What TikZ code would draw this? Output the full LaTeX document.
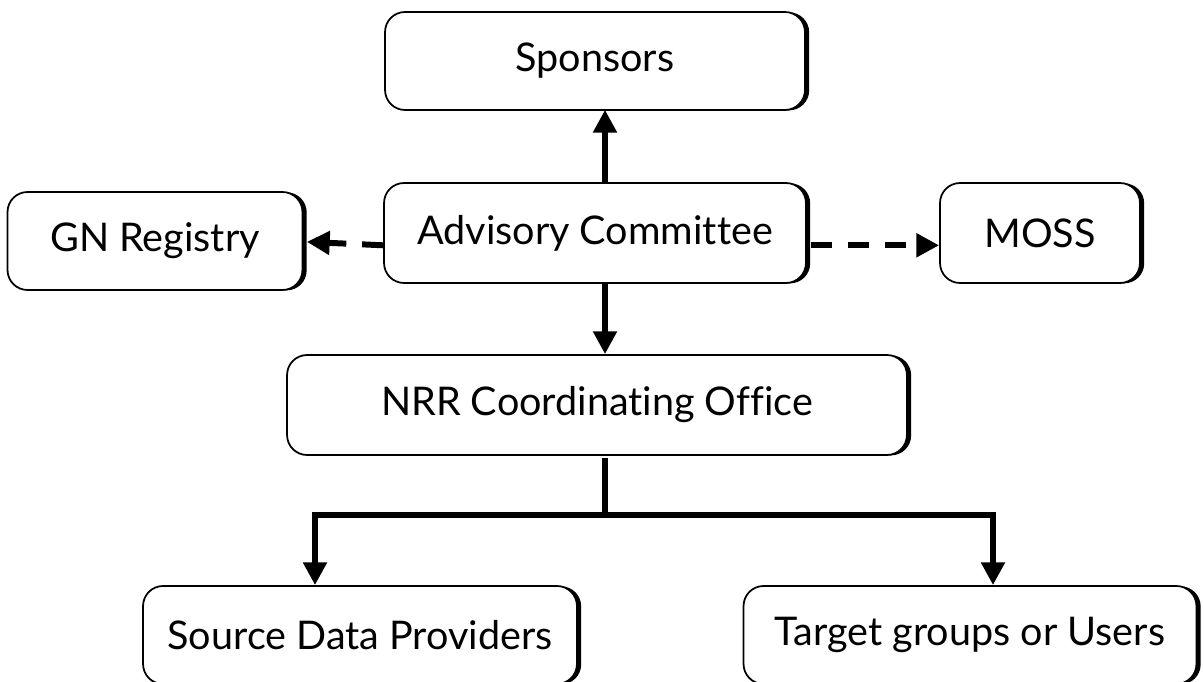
\documentclass[tikz,border=0pt]{standalone}
\usepackage{fontspec}
\setmainfont{Lato}[Ligatures={NoCommon}]
\usepackage{tikz}
\usetikzlibrary{arrows.meta}
\usetikzlibrary{shadows}

\begin{document}
\begin{tikzpicture}[x=0.02cm, y=-0.02cm,
    unit/.style={draw, line width=1pt, rounded corners=0.4cm, fill=white,
      font=\fontsize{22.5}{26}\selectfont,
      drop shadow={shadow xshift=2.4pt, shadow yshift=-0.2pt, fill=black, opacity=1}},
    link/.style={line width=3.4pt, -{Triangle[length=13pt, width=13pt]}},
    weak/.style={link, dash pattern=on 12pt off 9pt},
  ]
  \useasboundingbox (0,0) rectangle (1204,682);

  \node[unit, minimum width=8.4cm, minimum height=1.96cm] (spon) at (595,61) {Sponsors};
  \node[unit, minimum width=8.44cm, minimum height=2cm] (adv) at (595,233) {Advisory Committee};
  \node[unit, minimum width=5.9cm, minimum height=1.96cm] (gn) at (155,241) {GN Registry};
  \node[unit, minimum width=4cm, minimum height=2cm] (moss) at (1040,233) {MOSS};
  \node[unit, minimum width=12.4cm, minimum height=2cm] (nrr) at (597,405) {NRR Coordinating Office};
  \node[unit, minimum width=8.68cm, minimum height=1.96cm] (src) at (360,635) {Source Data Providers};
  \node[unit, minimum width=9.06cm, minimum height=1.96cm] (tgt) at (970,635) {Target groups or Users};

  \coordinate (spine) at (605,515);
  \coordinate (lbr) at (315,515);
  \coordinate (rbr) at (993,515);

  \draw[link] ([yshift=-0.6pt]adv.north -| spine) -- ([yshift=0.6pt]spon.south -| spine);
  \draw[link] (adv.south -| spine) -- (nrr.north -| spine);
  \draw[weak] ([yshift=-7pt]adv.west) -- ([yshift=-0.5pt,xshift=2pt]gn.east);
  \draw[weak] ([yshift=-7pt,xshift=2.4pt]adv.east) -- ([yshift=-7pt]moss.west);

  % split to the two lower boxes
  \draw[line width=3.4pt] ([yshift=-1pt]nrr.south -| spine) -- (spine);
  \draw[link, line cap=rect] (rbr) -- (lbr) -- (lbr |- src.north);
  \draw[link] (spine) -- (rbr) -- (rbr |- tgt.north);

\end{tikzpicture}
\end{document}
